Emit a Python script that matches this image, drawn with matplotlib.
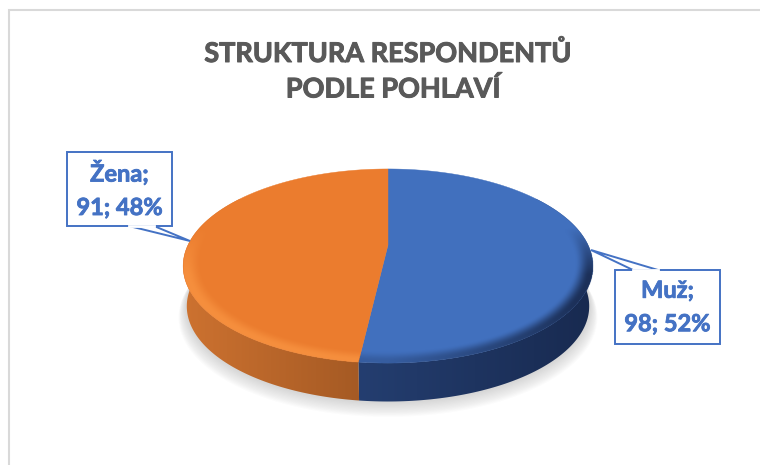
import numpy as np
import matplotlib
matplotlib.use('Agg')
import matplotlib.pyplot as plt
import matplotlib.patheffects as pe
from matplotlib.colors import to_rgb
from matplotlib.patches import Polygon, Rectangle

categories = ['Muž', 'Žena']
values = [98, 91]
percents = [52, 48]
top_colors = ['#4170BE', '#EB7C2E']
side_left = [(36, 62, 112), (205, 114, 48)]
side_right = [(24, 42, 80), (165, 90, 36)]
bevel_colors = ['#1A2D55', '#F8913F']
title_lines = ['STRUKTURA RESPONDENTŮ', 'PODLE POHLAVÍ']
title_x = [388, 393]

plt.rcParams['font.family'] = ['Lato', 'DejaVu Sans']

cx, cy = 388, 245
rx, ry, k = 200, 92.5, 0.2165
depth = 41


def project(theta, r=1.0, dy=0):
    # theta in degrees, clockwise from the top of the pie
    t = np.radians(theta)
    u, v = r * np.sin(t), r * np.cos(t)
    w = 1 + k * v
    return cx + rx * u / w, cy - ry * v / w + dy


def wedge(a, b):
    t = np.linspace(a, b, 200)
    x, y = project(t)
    x0, y0 = project(0, 0)
    return np.column_stack([np.r_[x0, x], np.r_[y0, y]])


def wall(a, b):
    # side wall between two angles, the lower edge sits slightly inside the top one
    t = np.linspace(a, b, 200)
    x, y = project(t)
    x2, y2 = project(t, 0.983, depth)
    return np.column_stack([np.r_[x, x2[::-1]], np.r_[y, y2[::-1]]])


def bold(width, color):
    return [pe.withStroke(linewidth=width, foreground=color)]


fig = plt.figure(figsize=(7.6, 4.65), dpi=100)
ax = fig.add_axes([0, 0, 1, 1])
ax.axis('off')

# chart frame
ax.add_patch(Rectangle((9, 10), 800, 600, fc='white', ec='#D9D9D9', lw=1.5))

# soft shadow under the pie
t = np.linspace(0, 360, 300)
for g in range(12, 0, -1):
    x, y = project(t, 0.985 + g * 0.003, depth + g * 0.8)
    ax.add_patch(Polygon(np.column_stack([x, y]), fc='#707070', ec='none', alpha=0.025, zorder=2))

angles = (np.cumsum([0] + values) / sum(values) * 360).tolist()

# side walls with a horizontal gradient
for i in range(2):
    a, b = angles[i], angles[i + 1]
    x, _ = project(np.linspace(a, b, 300))
    patch = Polygon(wall(a, b), fc='none', ec='none', zorder=3)
    ax.add_patch(patch)
    c0 = np.array(side_left[i]) / 255
    c1 = np.array(side_right[i]) / 255
    img = c0 + (c1 - c0) * np.linspace(0, 1, 256)[None, :, None]
    if i == 1:
        ext = [x.min(), project(a)[0] + 1, 420, 200]
    else:
        ext = [project(b)[0], x.max(), 420, 200]
    im = ax.imshow(img, extent=ext, aspect='auto', zorder=3)
    im.set_clip_path(patch)

# top face
for i in range(2):
    a, b = angles[i], angles[i + 1]
    ax.add_patch(Polygon(wedge(a, b), fc=top_colors[i], ec=top_colors[i], lw=0.3, zorder=4))

# bevel on the lower rim of the top face
gx, gy = np.meshgrid(np.arange(170, 610, 0.5), np.arange(160, 375, 0.5))
xp, yp = (gx - cx) / rx, (cy - gy) / ry
w = 1 / (1 - k * yp)
u, v = xp * w, yp * w
r = np.hypot(u, v) + 1e-9
theta = np.degrees(np.arctan2(u, v)) % 360
band = np.clip((r - 0.915) / 0.07, 0, 1)
band = band * band * (3 - 2 * band)
lower = np.clip((0.2 - v / r) / 0.5, 0, 1)
bevel = np.zeros(gx.shape + (4,))
for i in range(2):
    mask = (theta >= angles[i]) & (theta < angles[i + 1])
    bevel[mask, :3] = to_rgb(bevel_colors[i])
    if i == 0:
        # the blue side only darkens strongly towards the right
        side = 0.3 + 0.7 * np.clip(u / r * 1.2, 0, 1)
        bevel[mask, 3] = (band * lower * side)[mask] * 0.95
    else:
        bevel[mask, 3] = (band * lower)[mask] * 0.9
bevel[r > 1.0, 3] = 0
ax.imshow(bevel, extent=[170, 610, 375, 160], aspect='auto', interpolation='bilinear', zorder=5)

ax.set_xlim(0, 760)
ax.set_ylim(465, 0)

# title
for i, y in enumerate([53, 89]):
    ax.text(title_x[i], y, title_lines[i], ha='center', va='center', fontsize=19.5, fontweight='bold',
            color='#595959', path_effects=bold(0.7, '#595959'))

# callouts
blue = '#4472C4'
boxes = [(615, 270, 105, 74), (67, 152, 105, 74)]
tails = [[(633, 270), (591, 250), (658, 270)], [(154, 226), (190, 241), (129, 226)]]
for i in range(2):
    bx, by, bw, bh = boxes[i]
    ax.add_patch(Rectangle((bx, by), bw, bh, fc='white', ec=blue, lw=1.4, zorder=6))
    ax.add_patch(Polygon(tails[i], closed=True, fc='white', ec=blue, lw=1.4, zorder=6.1))
    tx, ty = zip(*tails[i])
    ax.plot([tx[0], tx[2]], [ty[0], ty[2]], color='white', lw=2, zorder=6.2)
    label = f'{categories[i]};\n{values[i]}; {percents[i]}%'
    ax.text(bx + bw / 2, by + bh / 2, label, ha='center', va='center', fontsize=17, fontweight='bold',
            color=blue, linespacing=1.55, zorder=7, path_effects=bold(0.6, blue))

fig.savefig('out.png', dpi=100)
